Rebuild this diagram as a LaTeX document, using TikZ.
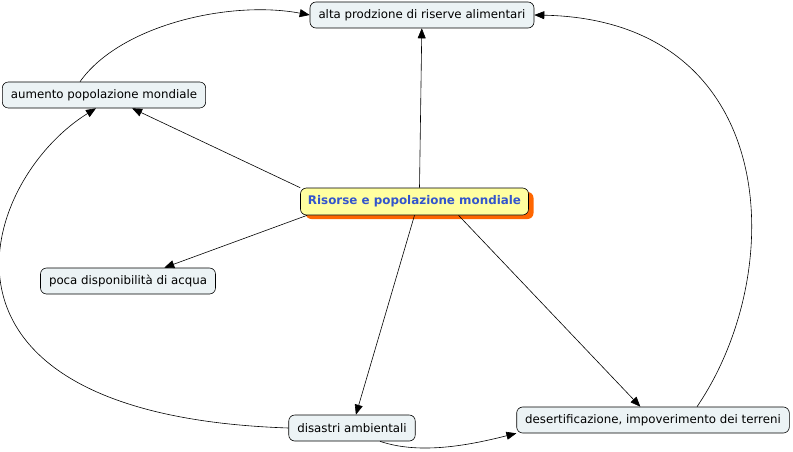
\documentclass[tikz,border=0pt]{standalone}
\usepackage{fontspec}
\setmainfont{DejaVu Sans}
\usetikzlibrary{arrows.meta,shadows}
\definecolor{cmfill}{RGB}{236,243,245}
\definecolor{cmyellow}{RGB}{255,255,160}
\definecolor{cmblue}{RGB}{51,85,204}
\definecolor{cmorange}{RGB}{255,102,0}

\begin{document}
\begin{tikzpicture}[x=1pt, y=-1pt,
  concept/.style={rectangle, rounded corners=6pt, draw=black, fill=cmfill, line width=0.6pt,
                  minimum height=26pt, inner xsep=8.5pt, font=\fontsize{11.8}{13}\selectfont},
  root/.style={concept, fill=cmyellow, text=cmblue, inner xsep=7.5pt, minimum height=27pt,
               font=\fontsize{11.9}{13}\selectfont\bfseries,
               drop shadow={shadow xshift=5pt, shadow yshift=-4pt, fill=cmorange, opacity=1}},
  link/.style={-{Triangle[length=10pt,width=8pt]}, line width=0.6pt}]
\useasboundingbox (0,0) rectangle (793,452);
% Concepts
\node[root] (ctr) at (414.5,201.5) {Risorse e popolazione mondiale};
\node[concept] (top) at (422,15) {alta prodzione di riserve alimentari};
\node[concept] (aum) at (104,95) {aumento popolazione mondiale};
\node[concept] (poca) at (128,281) {poca disponibilità di acqua};
\node[concept] (dis) at (352,428) {disastri ambientali};
\node[concept] (des) at (653,420) {desertificazione, impoverimento dei terreni};
% Links from the root
\draw[link] ([xshift=5pt]ctr.north) -- (top);
\draw[link] (ctr.north west) -- (aum);
\draw[link] ([xshift=7pt]ctr.south west) -- (poca);
\draw[link] (ctr.south) -- (dis);
\draw[link] ([xshift=44pt]ctr.south) -- (des);
% Curved links
\draw[link] ([xshift=-24pt]aum.north) .. controls (120,25) and (230,0) .. (top.west);
\draw[link] (dis.west) .. controls (-100,415) and (-20,180) .. ([xshift=-8pt]aum.south);
\draw[link] ([xshift=28pt]dis.south) .. controls (420,455) and (470,445) .. (des.south west);
\draw[link] ([xshift=44pt]des.north) .. controls (790,270) and (780,20) .. (top.east);
\end{tikzpicture}
\end{document}
